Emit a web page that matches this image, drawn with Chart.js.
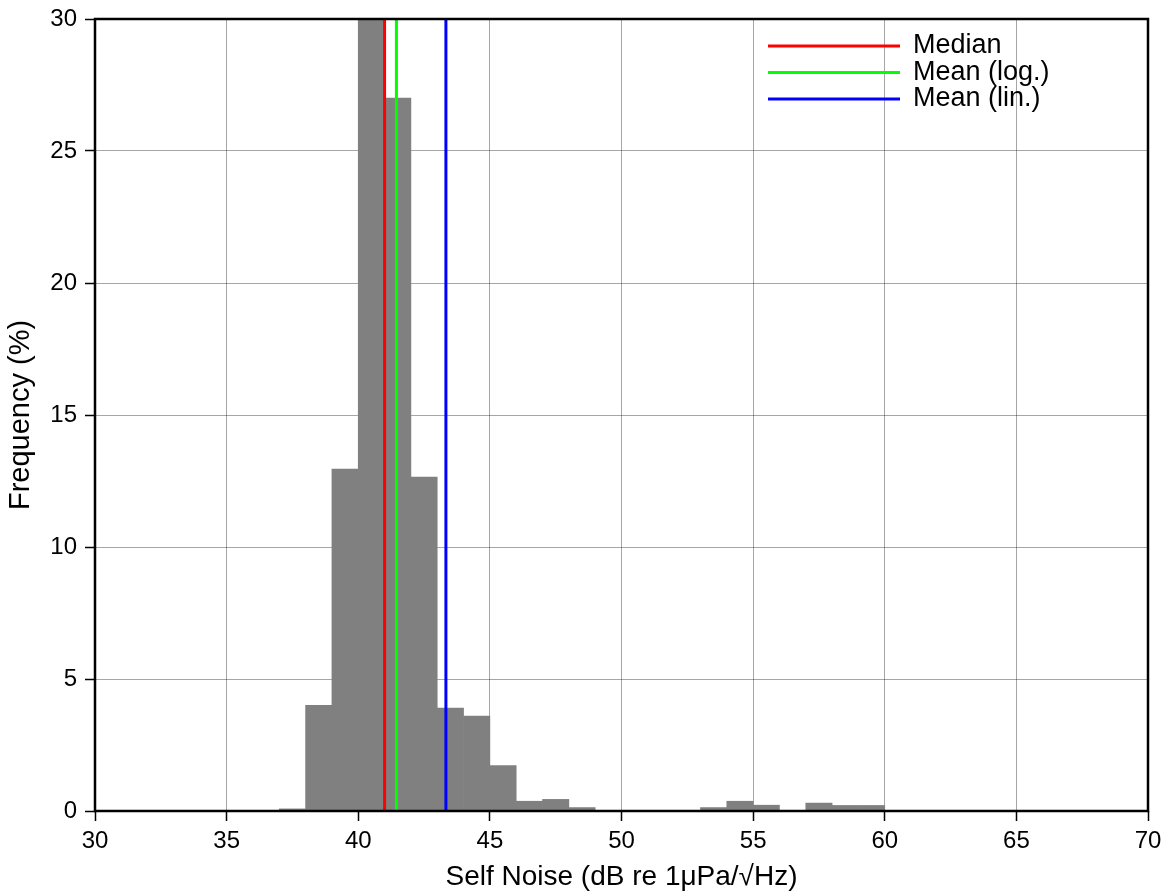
<!DOCTYPE html>
<html>
<head>
<meta charset="utf-8">
<script src="https://cdn.jsdelivr.net/npm/chart.js@4/dist/chart.umd.min.js"></script>
<style>
  html, body { margin: 0; padding: 0; background: #fff; }
  #wrap { width: 1172px; height: 894px; }
</style>
</head>
<body>
<div id="wrap"><canvas id="noiseChart"></canvas></div>
<script>
// histogram bins (left edge, dB) and frequency in %
const binStart = [30, 31, 32, 33, 34, 35, 36, 37, 38, 39,
                  40, 41, 42, 43, 44, 45, 46, 47, 48, 49,
                  50, 51, 52, 53, 54, 55, 56, 57, 58, 59,
                  60, 61, 62, 63, 64, 65, 66, 67, 68, 69];
const frequency = [0, 0, 0, 0, 0, 0, 0, 0.08, 4.0, 12.95,
                   31.8, 27.0, 12.65, 3.9, 3.6, 1.72, 0.37, 0.44, 0.13, 0,
                   0, 0, 0, 0.13, 0.37, 0.22, 0, 0.3, 0.21, 0.21,
                   0, 0, 0, 0, 0, 0, 0, 0, 0, 0];

// statistics lines
const statLabels = ['Median', 'Mean (log.)', 'Mean (lin.)'];
const statValues = [41.0, 41.45, 43.33];
const statColors = ['#ff0000', '#00ff00', '#0000ff'];

const xTicksMin = 30, xTicksMax = 70, xStep = 5;
const yTicksMin = 0, yTicksMax = 30, yStep = 5;

const fontName = '"Liberation Sans", Arial, Helvetica, sans-serif';

// рамка навколо області графіка
const frameBox = {
    id: 'frameBox',
    afterDraw(chart) {
        const a = chart.chartArea;
        const ctx = chart.ctx;
        ctx.save();
        ctx.strokeStyle = '#000';
        ctx.lineWidth = 2.5;
        ctx.strokeRect(a.left, a.top, a.right - a.left, a.bottom - a.top);
        ctx.restore();
    }
};

// легенда всередині області графіка
const insideLegend = {
    id: 'insideLegend',
    afterDraw(chart) {
        const a = chart.chartArea;
        const ctx = chart.ctx;
        ctx.save();
        ctx.font = '27px ' + fontName;
        ctx.textBaseline = 'middle';
        ctx.textAlign = 'left';
        chart.data.datasets.forEach((ds, i) => {
            if (ds.type !== 'line') return;
            const row = i - 1;
            const y = a.top + 27 + row * 26.5;
            ctx.strokeStyle = ds.borderColor;
            ctx.lineWidth = 3;
            ctx.beginPath();
            ctx.moveTo(a.left + 673, y);
            ctx.lineTo(a.left + 805, y);
            ctx.stroke();
            ctx.fillStyle = '#000';
            ctx.fillText(ds.label, a.left + 818, y);
        });
        ctx.restore();
    }
};

const datasets = [{
    type: 'bar',
    label: 'Frequency',
    data: binStart.map((b, i) => ({ x: b + 0.5, y: frequency[i] })),
    backgroundColor: '#808080',
    borderWidth: 0,
    barPercentage: 1.0,
    categoryPercentage: 1.0,
    order: 2
}];

statValues.forEach((v, i) => {
    datasets.push({
        type: 'line',
        label: statLabels[i],
        data: [{ x: v, y: yTicksMin }, { x: v, y: yTicksMax }],
        borderColor: statColors[i],
        borderWidth: 3,
        pointRadius: 0,
        fill: false,
        order: 1
    });
});

const ctx = document.getElementById('noiseChart').getContext('2d');
const chart = new Chart(ctx, {
    type: 'bar',
    data: { datasets: datasets },
    options: {
        responsive: true,
        maintainAspectRatio: false,
        animation: false,
        layout: { padding: { top: 19, right: 24, left: 0, bottom: 0 } },
        plugins: {
            legend: { display: false },
            tooltip: { enabled: false }
        },
        scales: {
            x: {
                type: 'linear',
                min: xTicksMin,
                max: xTicksMax,
                offset: false,
                z: 1,
                afterFit(scale) { scale.height = 83; },
                ticks: {
                    stepSize: xStep,
                    color: '#000',
                    padding: 6,
                    maxRotation: 0,
                    font: { family: fontName, size: 24 }
                },
                grid: {
                    offset: false,
                    color: 'rgba(0,0,0,0.35)',
                    lineWidth: 1,
                    drawTicks: true,
                    tickLength: 10,
                    tickColor: '#000',
                    tickWidth: 1.5
                },
                border: { display: false },
                title: {
                    display: true,
                    text: 'Self Noise (dB re 1\u03bcPa/\u221aHz)',
                    color: '#000',
                    font: { family: fontName, size: 28 },
                    padding: { top: 2, bottom: 0 }
                }
            },
            y: {
                type: 'linear',
                min: yTicksMin,
                max: yTicksMax,
                z: 1,
                afterFit(scale) {
                    scale.width = 95;
                    scale.paddingTop = 0;
                    scale.paddingBottom = 0;
                },
                ticks: {
                    stepSize: yStep,
                    color: '#000',
                    padding: 8,
                    font: { family: fontName, size: 24 }
                },
                grid: {
                    color: 'rgba(0,0,0,0.35)',
                    lineWidth: 1,
                    drawTicks: true,
                    tickLength: 10,
                    tickColor: '#000',
                    tickWidth: 1.5
                },
                border: { display: false },
                title: {
                    display: true,
                    text: 'Frequency (%)',
                    color: '#000',
                    font: { family: fontName, size: 29 },
                    padding: { top: 4, bottom: 4 }
                }
            }
        }
    },
    plugins: [frameBox, insideLegend]
});
</script>
</body>
</html>
